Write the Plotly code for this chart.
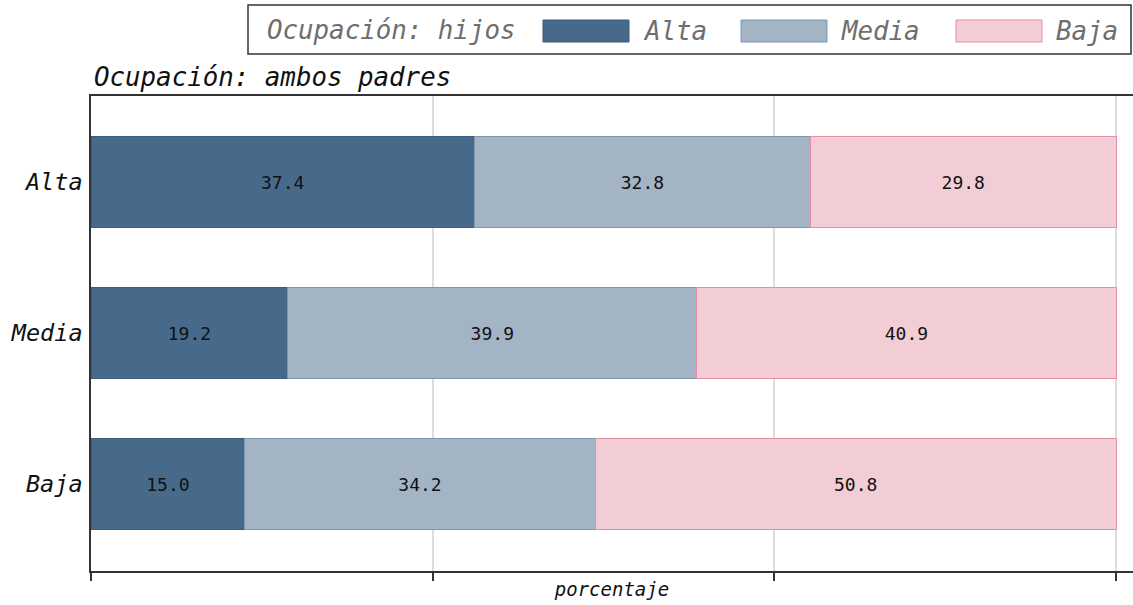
import plotly.graph_objects as go

# Data
padres = ["Alta", "Media", "Baja"]          # Ocupación: ambos padres (rows)
hijos = ["Alta", "Media", "Baja"]           # Ocupación: hijos (series)
hijos_alta = [37.4, 19.2, 15.0]
hijos_media = [32.8, 39.9, 34.2]
hijos_baja = [29.8, 40.9, 50.8]
series_values = [hijos_alta, hijos_media, hijos_baja]
tick_values = [0, 100 / 3, 200 / 3, 100]

fill_colors = ["#476a8a", "#a3b4c4", "#f2cdd5"]
line_colors = ["#3d5d7c", "#7f96ae", "#e58fa6"]

W, H = 1133, 605
ML, MR, MT = 91, 0, 96
MB = H - 571
PW, PH = W - ML - MR, H - MT - MB

MONO = "DejaVu Sans Mono"

fig = go.Figure()
for name, vals, fc, lc in zip(hijos, series_values, fill_colors, line_colors):
    fig.add_trace(go.Bar(
        y=padres, x=vals, name=name, orientation="h",
        marker=dict(color=fc, line=dict(color=lc, width=1)),
        text=vals, texttemplate="%{x:.1f}", textposition="inside",
        insidetextanchor="middle",
        textfont=dict(family=MONO, size=18, color="#111111"),
        constraintext="none",
        width=0.6, showlegend=False, hoverinfo="x+y",
    ))

def px_x(p):
    return (p - ML) / PW

def px_y(p):
    return (H - MB - p) / PH

shapes = []
annotations = []
# legend box
shapes.append(dict(type="rect", xref="paper", yref="paper",
                   x0=px_x(248), x1=px_x(1131), y0=px_y(54), y1=px_y(5),
                   line=dict(color="#333333", width=1.5), fillcolor="white", layer="above"))
annotations.append(dict(text="Ocupación: hijos", xref="paper", yref="paper",
                        x=px_x(265), y=px_y(30), xanchor="left", yanchor="middle",
                        showarrow=False,
                        font=dict(family=MONO, size=25.8, color="#6e6e6e", style="italic")))
sw = [(543, 629), (741, 827), (956, 1042)]
for (a, b), name, fc, lc in zip(sw, hijos, fill_colors, line_colors):
    shapes.append(dict(type="rect", xref="paper", yref="paper",
                       x0=px_x(a), x1=px_x(b), y0=px_y(42), y1=px_y(20),
                       line=dict(color=lc, width=1), fillcolor=fc, layer="above"))
    annotations.append(dict(text=name, xref="paper", yref="paper",
                            x=px_x(b + 12), y=px_y(31), xanchor="left", yanchor="middle",
                            showarrow=False,
                            font=dict(family=MONO, size=25.8, color="#6e6e6e", style="italic")))

fig.update_layout(
    width=W, height=H,
    margin=dict(l=ML, r=MR, t=MT, b=MB, pad=0),
    paper_bgcolor="white", plot_bgcolor="white",
    barmode="stack",
    bargap=0.4,
    title=dict(text="Ocupación: ambos padres", xref="container", yref="container",
               x=94 / W, xanchor="left", y=1 - 77 / H, yanchor="middle",
               font=dict(family=MONO, size=25.8, color="#111111", style="italic")),
    xaxis=dict(range=[0, PW / 10.25], tickvals=tick_values, showticklabels=False,
               ticks="outside", ticklen=8, tickwidth=2, tickcolor="#333333",
               showgrid=True, gridcolor="#dddddd", gridwidth=1.5,
               showline=True, linecolor="#333333", linewidth=2, mirror=True,
               zeroline=False,
               title=dict(text="porcentaje", standoff=3,
                          font=dict(family=MONO, size=19, color="#111111", style="italic"))),
    yaxis=dict(categoryorder="array", categoryarray=padres,
               range=[2.575, -0.57],
               showgrid=False, zeroline=False, ticks="",
               showline=True, linecolor="#333333", linewidth=1.5,
               tickfont=dict(family=MONO, size=23.5, color="#111111", style="italic"),
               ticklabelstandoff=2),
    shapes=shapes,
    annotations=annotations,
)

fig.write_html(
    "out.html",
    config={"displayModeBar": False},
    post_script="document.body.style.margin='0';document.body.style.overflow='hidden';",
)
